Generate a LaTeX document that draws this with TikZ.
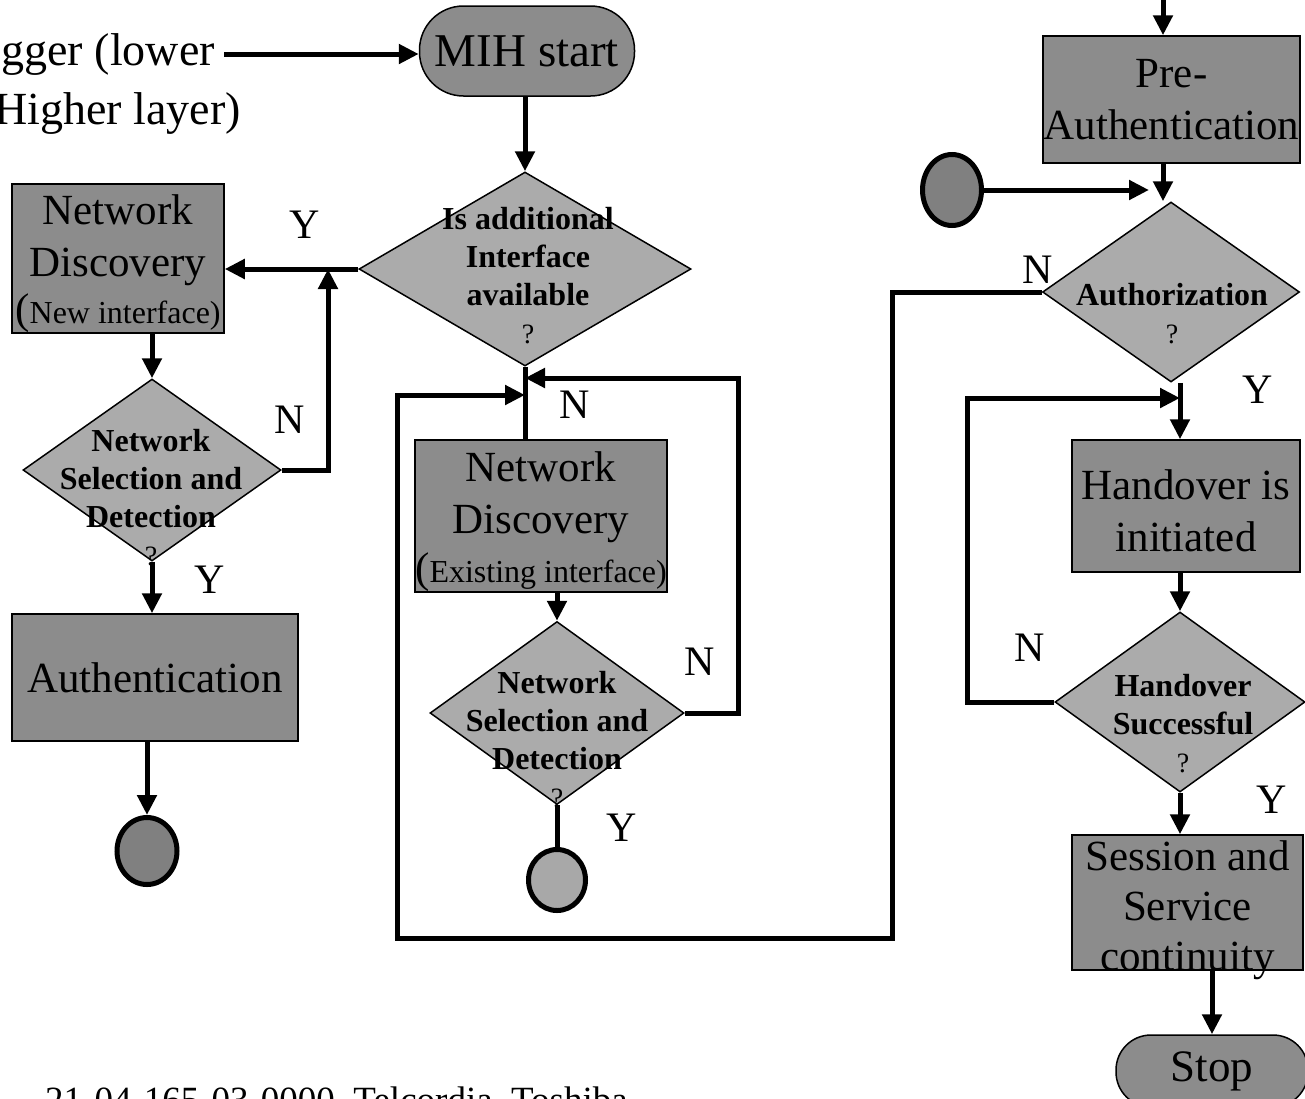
\documentclass[tikz,border=0pt]{standalone}
\usepackage{fontspec}
\setmainfont{Liberation Serif}
\usetikzlibrary{shapes.geometric,arrows.meta}

\definecolor{boxgray}{gray}{0.55}
\definecolor{diagray}{gray}{0.67}
\definecolor{dotdark}{gray}{0.5}
\definecolor{dotlight}{gray}{0.66}

\newcommand{\fs}[2]{\fontsize{#1}{#2}\selectfont}
\newcommand{\qmark}{{\normalfont\fs{28}{28}?}}
\newcommand{\subline}[1]{{\fs{43}{52}(}{\fs{32}{52}#1}}
\newcommand{\pad}[1]{\rule{0pt}{#1pt}}

\begin{document}
\begin{tikzpicture}[x=1pt,y=-1pt,
			proc/.style={
				rectangle,
				draw,
				line width=1.5pt,
				fill=boxgray,
				inner sep=0pt,
				align=center,
				font=\fs{43}{52},
			},
			term/.style={
				rectangle,
				rounded corners=44pt,
				draw,
				line width=1.5pt,
				fill=boxgray,
				inner sep=0pt,
			},
			decision/.style={
				diamond,
				draw,
				line width=1.5pt,
				fill=diagray,
				inner sep=0pt,
			},
			dtext/.style={
				anchor=north,
				inner sep=0pt,
				align=center,
				font=\fs{32}{38}\bfseries,
			},
			endpt/.style={
				ellipse,
				draw,
				line width=5pt,
				inner sep=0pt,
			},
			yn/.style={inner sep=0pt, font=\fs{42}{42}},
			trigtxt/.style={anchor=base east, inner sep=0pt, font=\fs{46}{57}},
			wire/.style={line width=5pt},
			flow/.style={line width=5pt, -{Triangle[length=20pt,width=19pt]}},
		]
		\useasboundingbox (0,0) rectangle (1305,1098);
		\clip (0,0) rectangle (1305,1098);

		% left column
		\node[trigtxt] (trig)  at (215,65)  {Trigger (lower};
		\node[trigtxt] (trigb) at (241,124) {Higher layer)};
		\node[term, minimum width=215pt, minimum height=90pt, font=\fs{47}{47}] (mih) at (527,51) {MIH start};
		\node[decision, minimum width=332pt, minimum height=194pt] (isadd) at (525,269) {};
		\node[dtext] (isaddtxt) at (528,207) {Is additional\\Interface\\available\\\qmark};
		\node[proc, minimum width=212pt, minimum height=149pt] (ndnew) at (118,258.5) {\pad{40}Network\\Discovery\\[-5pt]\subline{New interface)}};
		\node[decision, minimum width=258pt, minimum height=182pt] (selnew) at (152,470) {};
		\node[dtext] (selnewtxt) at (151,429) {Network\\Selection and\\Detection\\\qmark};
		\node[proc, minimum width=286pt, minimum height=127pt] (auth) at (155,677.5) {Authentication};
		\node[endpt, fill=dotdark, minimum width=60pt, minimum height=67pt] (endl) at (147,851) {};

		% middle column
		\node[proc, minimum width=242pt, minimum height=152pt] (ndold) at (541,516) {\pad{41}Network\\Discovery\\[-3pt]\subline{Existing interface)}};
		\node[decision, minimum width=254pt, minimum height=183pt] (selold) at (557,713) {};
		\node[dtext] (seloldtxt) at (557,671) {Network\\Selection and\\Detection\\\qmark};
		\node[endpt, fill=dotlight, minimum width=57pt, minimum height=61pt] (endm) at (557,880) {};

		% right column
		\coordinate (rcol) at (1163,0);
		\node[proc, minimum width=257pt, minimum height=127pt] (preauth) at (1171.5,99.5) {Pre-\\Authentication};
		\node[endpt, fill=dotdark, minimum width=59pt, minimum height=71pt] (endr) at (952,190) {};
		\node[decision, minimum width=257pt, minimum height=180pt] (authz) at (1171,292) {};
		\node[dtext] (authztxt) at (1172,283) {Authorization\\\qmark};
		\node[proc, minimum width=228pt, minimum height=132pt] (hoinit) at (1186,506) {\pad{39}Handover is\\initiated};
		\node[decision, minimum width=250pt, minimum height=180pt] (hosucc) at (1180,702) {};
		\node[dtext] (hosucctxt) at (1183,674) {Handover\\Successful\\\qmark};
		\node[proc, minimum width=231pt, minimum height=135pt, text depth=0pt] (session) at (1187.5,902.5) {\pad{35}Session and\\[-2pt]Service\\[-2pt]continuity};
		\node[term, minimum width=192pt, minimum height=72pt, rounded corners=35pt, font=\fs{45}{45}] (stop) at (1212,1071) {Stop};

		% Y / N labels
		\node[yn] (yadd)  at (305,225)  {Y};
		\node[yn] (nnew)  at (290,420)  {N};
		\node[yn] (ynew)  at (210,580)  {Y};
		\node[yn] (nadd)  at (575,405)  {N};
		\node[yn] (nold)  at (700,662)  {N};
		\node[yn] (yold)  at (622,828)  {Y};
		\node[yn] (nauth) at (1038,270) {N};
		\node[yn] (yauth) at (1258,390) {Y};
		\node[yn] (nsucc) at (1030,648) {N};
		\node[yn] (ysucc) at (1272,800) {Y};

		\node[anchor=base west, inner sep=0pt, font=\fs{37}{37}] (docid) at (45,1112) {21-04-165-03-0000\_Telcordia\_Toshiba};

		% connectors, left
		\draw[flow] ([xshift=9pt]trig.east) -- (trig.east -| mih.west);
		\draw[flow] (isadd.north |- mih.south) -- (isadd.north);
		\draw[flow] (isadd.west) -- (isadd.west -| ndnew.east);
		\draw[flow] (selnew.north |- ndnew.south) -- (selnew.north);
		\coordinate (jn1) at (328,269);
		\draw[flow] (selnew.east) -| (jn1);
		\draw[flow] (selnew.south) -- (selnew.south |- auth.north);
		\draw[flow] (endl.north |- auth.south) -- (endl.north);

		% connectors, middle
		\draw[wire] (isadd.south) -- (isadd.south |- ndold.north);
		\draw[flow] (selold.north |- ndold.south) -- (selold.north);
		\draw[wire] (selold.south) -- (endm.north);
		\coordinate (loopr) at (738,378);
		\draw[flow] (selold.east) -| (loopr) -- (loopr -| isadd.south);
		\coordinate (loopbr) at (892,938);
		\coordinate (loopin) at (397,395);
		\draw[flow] (authz.west) -| (loopbr) -| (loopin) -- (loopin -| isadd.south);

		% connectors, right
		\draw[flow] (rcol |- 0,-20) -- (rcol |- preauth.north);
		\draw[flow] (rcol |- preauth.south) -- (rcol |- authz.north);
		\draw[flow, shorten >=14pt] (endr.east) -- (endr.east -| rcol);
		\coordinate (hoin) at (1180,398);
		\draw[flow] (authz.south -| hoin) -- (hoin |- hoinit.north);
		\coordinate (loopl) at (967,398);
		\draw[flow] (hosucc.west) -| (loopl) -- (hoin);
		\draw[flow] (hosucc.north |- hoinit.south) -- (hosucc.north);
		\draw[flow] (hosucc.south) -- (hosucc.south |- session.north);
		\draw[flow] (stop.north |- session.south) -- (stop.north);
	\end{tikzpicture}
\end{document}
